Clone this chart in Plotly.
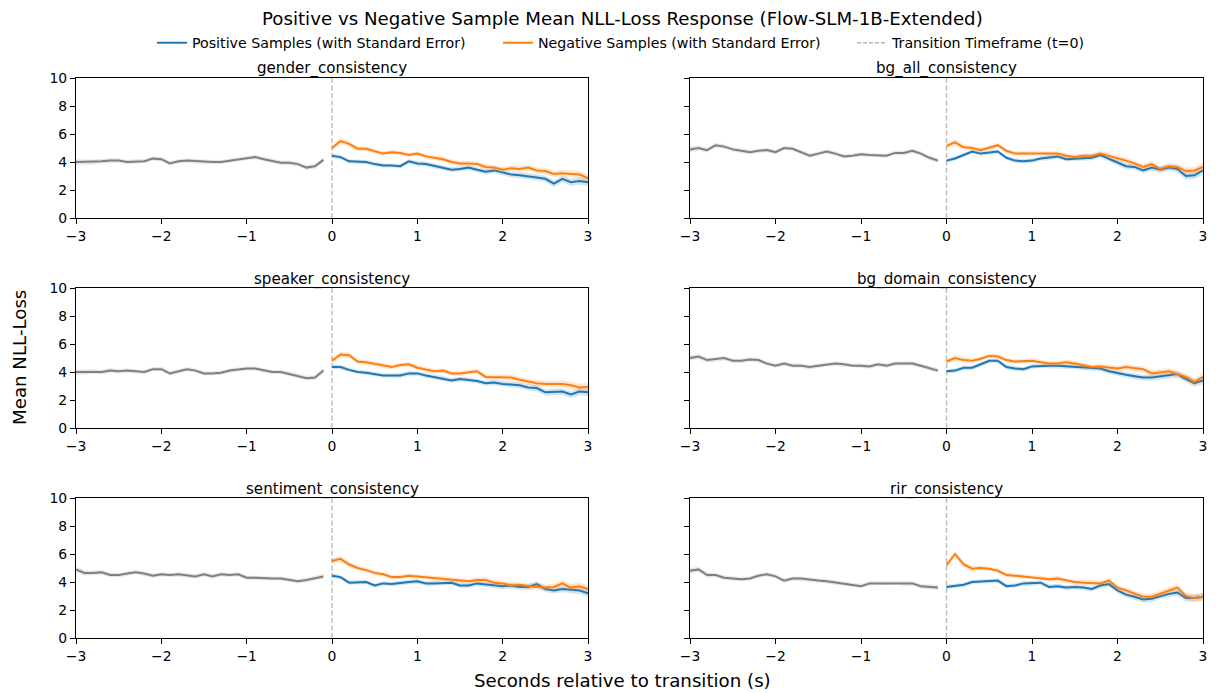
import numpy as np
import plotly.graph_objects as go

W, H = 1218, 693

# time grid (seconds relative to transition)
t_pre = np.round(np.arange(-30, 0) * 0.1, 2)
t_post = np.round(np.arange(0, 31) * 0.1, 2)

panel_names = ["gender_consistency", "bg_all_consistency",
               "speaker_consistency", "bg_domain_consistency",
               "sentiment_consistency", "rir_consistency"]

# pre-transition mean NLL (gray)
gender_pre = [4.0, 4.0, 4.0, 4.05, 4.1, 4.1, 4.0, 4.05, 4.05, 4.25, 4.2, 3.9, 4.05, 4.1, 4.05,
              4.0, 4.0, 4.0, 4.1, 4.2, 4.3, 4.35, 4.2, 4.05, 3.95, 3.95, 3.85, 3.6, 3.7, 4.15]
bg_all_pre = [4.9, 5.0, 4.85, 5.2, 5.1, 4.9, 4.8, 4.7, 4.8, 4.85, 4.7, 5.0, 4.95, 4.7, 4.45,
              4.6, 4.75, 4.6, 4.4, 4.45, 4.55, 4.5, 4.45, 4.45, 4.65, 4.65, 4.8, 4.6, 4.3, 4.1]
speaker_pre = [4.0, 4.0, 4.05, 4.0, 4.1, 4.05, 4.1, 4.05, 4.0, 4.2, 4.2, 3.9, 4.05, 4.2, 4.1,
               3.9, 3.9, 3.95, 4.1, 4.2, 4.25, 4.25, 4.1, 4.0, 4.0, 3.85, 3.75, 3.55, 3.6, 4.1]
bg_domain_pre = [5.0, 5.1, 4.85, 4.9, 5.0, 4.8, 4.8, 4.9, 4.85, 4.6, 4.45, 4.6, 4.45, 4.45, 4.35,
                 4.45, 4.55, 4.6, 4.55, 4.45, 4.45, 4.4, 4.55, 4.45, 4.6, 4.6, 4.6, 4.45, 4.3, 4.1]
sentiment_pre = [4.9, 4.65, 4.65, 4.7, 4.5, 4.5, 4.6, 4.7, 4.6, 4.45, 4.55, 4.5, 4.55, 4.45, 4.4,
                 4.55, 4.4, 4.55, 4.5, 4.55, 4.3, 4.3, 4.25, 4.25, 4.25, 4.15, 4.05, 4.15, 4.25, 4.4]
rir_pre = [4.8, 4.9, 4.5, 4.5, 4.3, 4.25, 4.2, 4.25, 4.45, 4.55, 4.4, 4.1, 4.25, 4.25, 4.15,
           4.1, 4.05, 3.95, 3.9, 3.8, 3.7, 3.9, 3.9, 3.95, 3.95, 3.9, 3.9, 3.7, 3.65, 3.6]

# post-transition positive samples (blue)
gender_pos = [4.45, 4.35, 4.05, 4.0, 4.0, 3.85, 3.75, 3.75, 3.7, 4.05, 3.9, 3.85, 3.7, 3.6, 3.45, 3.5,
              3.6, 3.45, 3.3, 3.4, 3.25, 3.1, 3.05, 3.0, 2.9, 2.8, 2.45, 2.8, 2.55, 2.65, 2.55]
bg_all_pos = [4.1, 4.25, 4.5, 4.75, 4.6, 4.65, 4.75, 4.3, 4.1, 4.05, 4.1, 4.25, 4.3, 4.4, 4.2, 4.25,
              4.3, 4.3, 4.5, 4.25, 3.95, 3.7, 3.65, 3.4, 3.6, 3.45, 3.6, 3.5, 3.0, 3.05, 3.4]
speaker_pos = [4.35, 4.35, 4.15, 4.0, 3.95, 3.85, 3.75, 3.75, 3.75, 3.9, 3.9, 3.75, 3.65, 3.55, 3.4, 3.5,
               3.45, 3.35, 3.2, 3.25, 3.15, 3.1, 3.05, 2.9, 2.85, 2.55, 2.6, 2.6, 2.4, 2.6, 2.55]
bg_domain_pos = [4.05, 4.1, 4.3, 4.3, 4.55, 4.8, 4.8, 4.35, 4.25, 4.2, 4.4, 4.45, 4.45, 4.45, 4.4, 4.4,
                 4.3, 4.25, 4.25, 4.05, 3.9, 3.8, 3.7, 3.6, 3.6, 3.7, 3.75, 3.85, 3.5, 3.2, 3.4]
sentiment_pos = [4.45, 4.35, 3.95, 4.0, 4.0, 3.75, 3.9, 3.85, 3.95, 4.0, 4.05, 3.9, 3.9, 3.95, 3.95, 3.75,
                 3.75, 3.9, 3.85, 3.75, 3.7, 3.75, 3.65, 3.65, 3.85, 3.5, 3.4, 3.5, 3.45, 3.4, 3.2]
rir_pos = [3.65, 3.75, 3.8, 4.0, 4.05, 4.05, 4.1, 3.7, 3.75, 3.9, 3.9, 3.95, 3.65, 3.7, 3.6, 3.65,
           3.6, 3.5, 3.75, 3.85, 3.4, 3.1, 2.95, 2.75, 2.8, 3.0, 3.15, 3.25, 2.85, 2.85, 2.95]

# post-transition negative samples (orange)
gender_neg = [5.0, 5.5, 5.3, 4.95, 4.95, 4.8, 4.6, 4.7, 4.65, 4.5, 4.6, 4.4, 4.3, 4.2, 4.0, 3.9,
              3.9, 3.85, 3.65, 3.6, 3.45, 3.55, 3.5, 3.6, 3.4, 3.35, 3.15, 3.2, 3.15, 3.1, 2.85]
bg_all_neg = [5.15, 5.4, 5.05, 5.0, 4.85, 5.05, 5.2, 4.8, 4.6, 4.6, 4.6, 4.6, 4.6, 4.6, 4.45, 4.35,
              4.45, 4.45, 4.6, 4.45, 4.25, 4.1, 3.9, 3.65, 3.85, 3.5, 3.7, 3.65, 3.35, 3.4, 3.65]
speaker_neg = [4.8, 5.25, 5.2, 4.75, 4.7, 4.6, 4.45, 4.35, 4.5, 4.55, 4.3, 4.15, 4.05, 4.1, 3.9, 3.9,
               4.0, 4.05, 3.65, 3.65, 3.65, 3.6, 3.45, 3.3, 3.2, 3.15, 3.15, 3.15, 3.05, 2.9, 2.95]
bg_domain_neg = [4.75, 5.0, 4.85, 4.8, 4.95, 5.15, 5.1, 4.85, 4.75, 4.8, 4.8, 4.7, 4.6, 4.6, 4.7, 4.6,
                 4.45, 4.35, 4.4, 4.3, 4.25, 4.35, 4.25, 4.2, 3.9, 4.0, 4.05, 3.85, 3.65, 3.3, 3.65]
sentiment_neg = [5.5, 5.65, 5.25, 5.0, 4.85, 4.65, 4.55, 4.35, 4.35, 4.45, 4.4, 4.35, 4.25, 4.25, 4.15, 4.1,
                 4.05, 4.15, 4.15, 3.95, 3.9, 3.75, 3.8, 3.7, 3.65, 3.6, 3.65, 3.9, 3.6, 3.7, 3.5]
rir_neg = [5.2, 6.0, 5.25, 4.95, 5.0, 4.95, 4.8, 4.5, 4.45, 4.4, 4.35, 4.3, 4.2, 4.25, 4.1, 4.0,
           3.95, 3.95, 3.9, 4.1, 3.6, 3.4, 3.2, 2.95, 2.95, 3.15, 3.4, 3.6, 3.0, 2.85, 2.95]

# standard errors (band half-widths)
pre_se = [0.2, 0.18, 0.17, 0.16, 0.16, 0.15, 0.15, 0.15, 0.15, 0.15, 0.15, 0.15, 0.15, 0.15, 0.15,
          0.15, 0.15, 0.15, 0.15, 0.15, 0.15, 0.15, 0.15, 0.15, 0.15, 0.16, 0.16, 0.16, 0.17, 0.18]
pos_se = [0.15, 0.15, 0.15, 0.15, 0.15, 0.15, 0.15, 0.15, 0.16, 0.16, 0.16, 0.16, 0.17, 0.17, 0.17, 0.18,
          0.18, 0.18, 0.19, 0.19, 0.2, 0.2, 0.21, 0.21, 0.22, 0.22, 0.23, 0.24, 0.25, 0.26, 0.27]
neg_se = [0.18, 0.22, 0.2, 0.17, 0.16, 0.16, 0.16, 0.16, 0.16, 0.16, 0.16, 0.17, 0.17, 0.17, 0.17, 0.18,
          0.18, 0.18, 0.19, 0.19, 0.2, 0.2, 0.21, 0.21, 0.22, 0.22, 0.23, 0.24, 0.25, 0.26, 0.27]

pre_series = [gender_pre, bg_all_pre, speaker_pre, bg_domain_pre, sentiment_pre, rir_pre]
pos_series = [gender_pos, bg_all_pos, speaker_pos, bg_domain_pos, sentiment_pos, rir_pos]
neg_series = [gender_neg, bg_all_neg, speaker_neg, bg_domain_neg, sentiment_neg, rir_neg]

BLUE = "#1f77b4"
ORANGE = "#ff7f0e"
GRAY = "#808080"
FONT = "DejaVu Sans"

# panel geometry in pixels (left, right, top, bottom)
cols_px = [(76, 588), (690, 1203)]
rows_px = [(78, 218), (288, 428), (498, 638)]

fig = go.Figure()


def band(x, y, se, color_rgba, xa, ya):
    x = np.asarray(x)
    y = np.asarray(y, dtype=float)
    se = np.asarray(se, dtype=float)
    up = y + se
    lo = y - se
    fig.add_trace(go.Scatter(
        x=np.concatenate([x, x[::-1]]), y=np.concatenate([up, lo[::-1]]),
        fill="toself", fillcolor=color_rgba, line=dict(width=0), mode="lines",
        hoverinfo="skip", showlegend=False, xaxis=xa, yaxis=ya))


for i in range(6):
    r, c = divmod(i, 2)
    n = "" if i == 0 else str(i + 1)
    xa, ya = "x" + n, "y" + n
    band(t_pre, pre_series[i], pre_se, "rgba(128,128,128,0.2)", xa, ya)
    fig.add_trace(go.Scatter(x=t_pre, y=pre_series[i], mode="lines",
                             line=dict(color=GRAY, width=2), showlegend=False,
                             xaxis=xa, yaxis=ya))
    band(t_post, pos_series[i], pos_se, "rgba(31,119,180,0.2)", xa, ya)
    fig.add_trace(go.Scatter(x=t_post, y=pos_series[i], mode="lines",
                             line=dict(color=BLUE, width=2), showlegend=False,
                             xaxis=xa, yaxis=ya))
    band(t_post, neg_series[i], neg_se, "rgba(255,127,14,0.2)", xa, ya)
    fig.add_trace(go.Scatter(x=t_post, y=neg_series[i], mode="lines",
                             line=dict(color=ORANGE, width=2), showlegend=False,
                             xaxis=xa, yaxis=ya))
    # transition line
    fig.add_shape(type="line", xref=xa, yref=ya + " domain", x0=0, x1=0, y0=0, y1=1,
                  line=dict(color="rgba(128,128,128,0.5)", width=1.5, dash="5px,2.5px"))

    x0, x1 = cols_px[c]
    y0, y1 = rows_px[r]
    axis_common = dict(showline=True, linecolor="black", linewidth=1.1, mirror=True,
                       ticks="outside", ticklen=5, tickwidth=1.1, tickcolor="black",
                       showgrid=False, zeroline=False, automargin=False,
                       tickfont=dict(family=FONT, size=13.9, color="black"))
    fig.update_layout(**{
        ("xaxis" + n): dict(domain=[x0 / W, x1 / W], anchor=ya, range=[-3, 3],
                            tickvals=[-3, -2, -1, 0, 1, 2, 3], **axis_common),
        ("yaxis" + n): dict(domain=[1 - y1 / H, 1 - y0 / H], anchor=xa, range=[0, 10],
                            tickvals=[0, 2, 4, 6, 8, 10], showticklabels=(c == 0),
                            **axis_common),
    })
    fig.add_annotation(text=panel_names[i], xref="paper", yref="paper",
                       x=(x0 + x1) / 2 / W, y=1 - (y0 - 9) / H, xanchor="center",
                       yanchor="middle", showarrow=False,
                       font=dict(family=FONT, size=15.1, color="black"))

# legend entries
fig.add_trace(go.Scatter(x=[None], y=[None], mode="lines", line=dict(color=BLUE, width=2),
                         name="Positive Samples (with Standard Error)", legend="legend"))
fig.add_trace(go.Scatter(x=[None], y=[None], mode="lines", line=dict(color=ORANGE, width=2),
                         name="Negative Samples (with Standard Error)", legend="legend2"))
fig.add_trace(go.Scatter(x=[None], y=[None], mode="lines",
                         line=dict(color="rgba(128,128,128,0.6)", width=1.5, dash="4px,2px"),
                         name="Transition Timeframe (t=0)", legend="legend3"))

leg_common = dict(orientation="h", yanchor="middle", y=1 - 43 / H, xanchor="left",
                  bgcolor="rgba(0,0,0,0)", font=dict(family=FONT, size=14.2, color="black"))
fig.update_layout(
    legend=dict(x=152 / W, **leg_common),
    legend2=dict(x=498 / W, **leg_common),
    legend3=dict(x=852 / W, **leg_common),
)

fig.add_annotation(text="Positive vs Negative Sample Mean NLL-Loss Response (Flow-SLM-1B-Extended)",
                   xref="paper", yref="paper", x=622 / W, y=1 - 18 / H, xanchor="center",
                   yanchor="middle", showarrow=False,
                   font=dict(family=FONT, size=18.2, color="black"))
fig.add_annotation(text="Mean NLL-Loss", xref="paper", yref="paper", x=19 / W, y=1 - 358 / H,
                   xanchor="center", yanchor="middle", textangle=-90, showarrow=False,
                   font=dict(family=FONT, size=18.2, color="black"))
fig.add_annotation(text="Seconds relative to transition (s)", xref="paper", yref="paper",
                   x=622 / W, y=1 - 680 / H, xanchor="center", yanchor="middle",
                   showarrow=False, font=dict(family=FONT, size=18.2, color="black"))

fig.update_layout(width=W, height=H, margin=dict(l=0, r=0, t=0, b=0),
                  paper_bgcolor="white", plot_bgcolor="white",
                  font=dict(family=FONT, color="black"))

fig.write_html("out.html", config={"displayModeBar": False},
               post_script="document.body.style.margin='0';document.body.style.overflow='hidden';")
